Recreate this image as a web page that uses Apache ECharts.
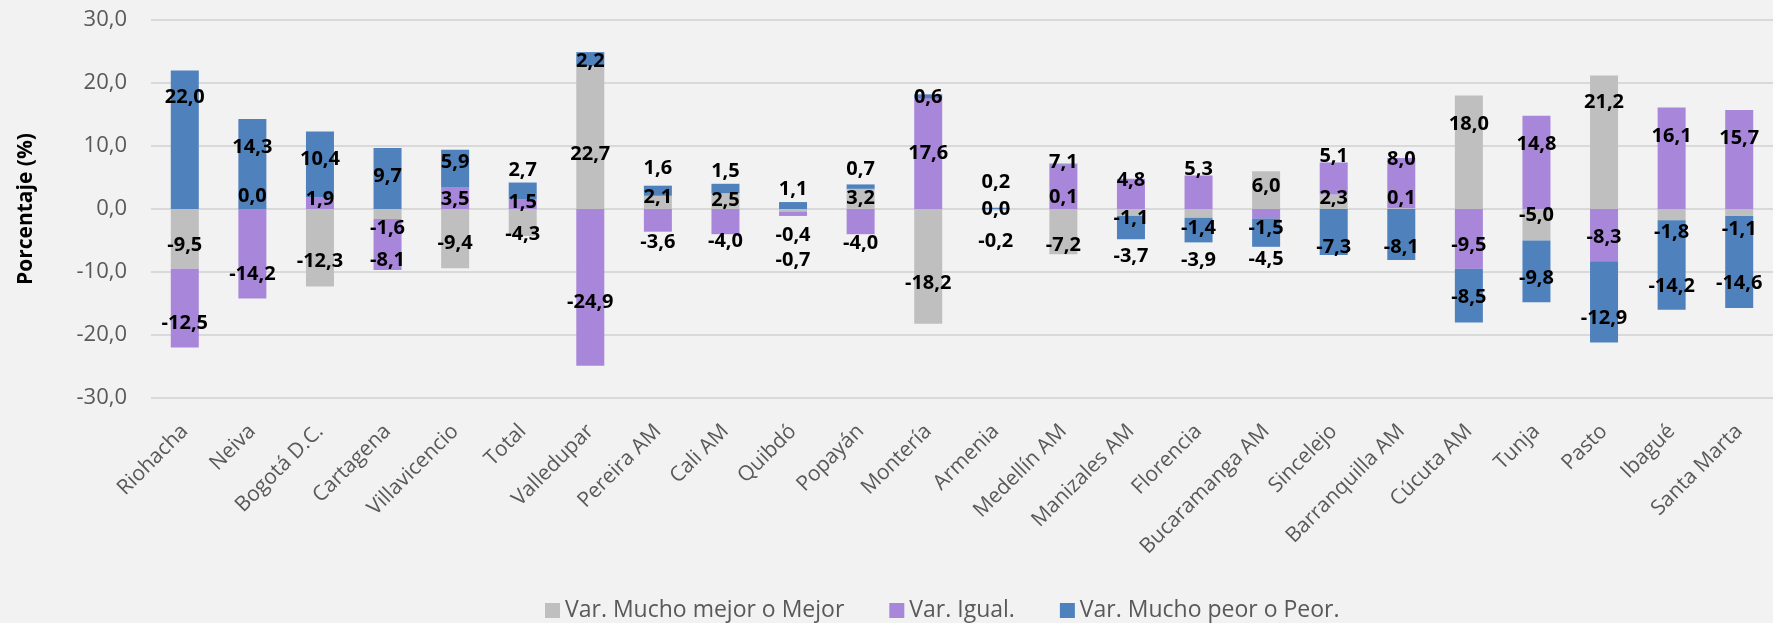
<!DOCTYPE html>
<html>
<head>
<meta charset="utf-8">
<script src="https://cdn.jsdelivr.net/npm/echarts@6/dist/echarts.min.js"></script>
<style>
  html, body { margin: 0; padding: 0; background: #f2f2f2; }
  #chart { width: 1773px; height: 623px; }
</style>
</head>
<body>
<div id="chart"></div>
<script>
// Cities (plus the national total)
const categories = [
  'Riohacha', 'Neiva', 'Bogotá D.C.', 'Cartagena', 'Villavicencio', 'Total',
  'Valledupar', 'Pereira AM', 'Cali AM', 'Quibdó', 'Popayán', 'Montería',
  'Armenia', 'Medellín AM', 'Manizales AM', 'Florencia', 'Bucaramanga AM',
  'Sincelejo', 'Barranquilla AM', 'Cúcuta AM', 'Tunja', 'Pasto', 'Ibagué', 'Santa Marta'
];

// Percentage-point changes per answer group
const mejor = [-9.5, 0.0, -12.3, -1.6, -9.4, -4.3, 22.7, 2.1, 2.5, -0.4, 3.2, -18.2,
  -0.2, -7.2, -1.1, -1.4, 6.0, 2.3, 0.1, 18.0, -5.0, 21.2, -1.8, -1.1];
const igual = [-12.5, -14.2, 1.9, -8.1, 3.5, 1.5, -24.9, -3.6, -4.0, -0.7, -4.0, 17.6,
  0.0, 7.1, 4.8, 5.3, -1.5, 5.1, 8.0, -9.5, 14.8, -8.3, 16.1, 15.7];
const peor = [22.0, 14.3, 10.4, 9.7, 5.9, 2.7, 2.2, 1.6, 1.5, 1.1, 0.7, 0.6,
  0.2, 0.1, -3.7, -3.9, -4.5, -7.3, -8.1, -8.5, -9.8, -12.9, -14.2, -14.6];

const seriesNames = ['Var. Mucho mejor o Mejor', 'Var. Igual.', 'Var. Mucho peor o Peor.'];
const yTicks = { min: -30, max: 30, step: 10 };

// Vertical nudges (px) that move each value label off its segment centre
const labelNudge = {
  mejor: [6, -13, 14, 14, 5, 12, 17, -5, -1, 25, -1, 17, 32, 14, 6, 15, -4, -3, -10, -28, -9, -40, 18, 17],
  igual: [15, 21, -4, 16, 1, -2, 15, 22, 20, 47, 22, 0, -1, -24, -14, -23, 15, -22, -24, 6, -18, 2, -22, -21],
  peor: [-42, -17, -5, -2, -6, -21, 2, -22, -17, -16, -17, 1, -26, 33, 29, 30, 27, 15, 13, 2, 7, 16, 21, 21]
};

const FONT = '"Open Sans", "Noto Sans", sans-serif';
const fmt = v => v.toFixed(1).replace('.', ',');

function buildSeries(name, values, nudges, color) {
  return {
    name: name,
    type: 'bar',
    stack: 'total',
    barWidth: 28,
    itemStyle: { color: color },
    data: values.map((v, i) => ({
      value: v,
      label: { offset: [0, nudges[i]] }
    })),
    label: {
      show: true,
      position: 'inside',
      formatter: p => fmt(p.value),
      color: '#000',
      fontFamily: FONT,
      fontWeight: 'bold',
      fontSize: 20
    }
  };
}

const chart = echarts.init(document.getElementById('chart'), null, { renderer: 'canvas' });
chart.setOption({
  backgroundColor: '#f2f2f2',
  animation: false,
  grid: { left: 151, right: -3, top: 20, bottom: 225, containLabel: false },
  legend: {
    data: seriesNames,
    left: 540,
    top: 594,
    icon: 'rect',
    itemWidth: 15,
    itemHeight: 15,
    itemGap: 45,
    textStyle: { color: '#595959', fontSize: 23, fontFamily: FONT }
  },
  xAxis: {
    type: 'category',
    data: categories,
    axisLine: { show: false },
    axisTick: { show: false },
    axisLabel: {
      rotate: 45,
      interval: 0,
      margin: 30,
      color: '#595959',
      fontSize: 21,
      fontFamily: FONT
    }
  },
  yAxis: {
    type: 'value',
    min: yTicks.min,
    max: yTicks.max,
    interval: yTicks.step,
    name: 'Porcentaje (%)',
    nameLocation: 'middle',
    nameRotate: 90,
    nameGap: 114,
    nameTextStyle: { color: '#000', fontSize: 21, fontWeight: 'bold', fontFamily: FONT },
    axisLine: { show: false },
    axisTick: { show: false },
    axisLabel: {
      formatter: v => fmt(v),
      color: '#595959',
      fontSize: 22,
      fontFamily: FONT,
      margin: 24
    },
    splitLine: { lineStyle: { color: '#d9d9d9', width: 2 } }
  },
  series: [
    buildSeries(seriesNames[0], mejor, labelNudge.mejor, '#bfbfbf'),
    buildSeries(seriesNames[1], igual, labelNudge.igual, '#a886d9'),
    buildSeries(seriesNames[2], peor, labelNudge.peor, '#4f81bd')
  ]
});
</script>
</body>
</html>
